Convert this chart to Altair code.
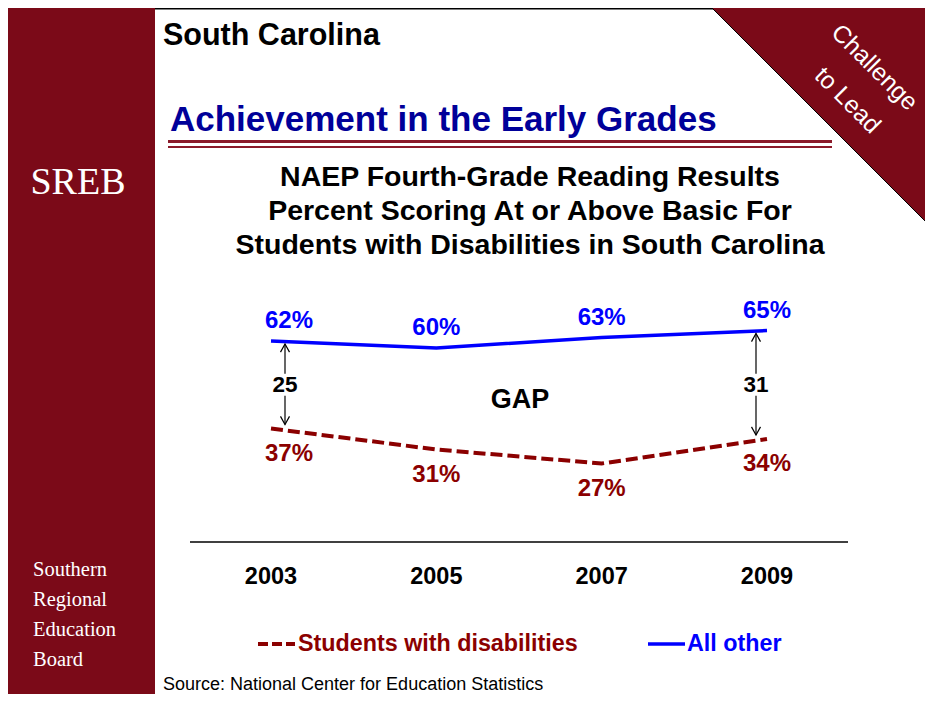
import altair as alt
import pandas as pd

# ---------------- data ----------------
years = [2003, 2005, 2007, 2009]
all_other = [62, 60, 63, 65]
disabilities = [37, 31, 27, 34]
series_names = ["Students with disabilities", "All other"]

gap_years = [2003, 2009]
gap_top = [62, 65]
gap_bottom = [37, 34]
gap_labels = ["25", "31"]

title_lines = [
    "NAEP Fourth-Grade Reading Results",
    "Percent Scoring At or Above Basic For",
    "Students with Disabilities in South Carolina",
]
sidebar_lines = ["Southern", "Regional", "Education", "Board"]
corner_lines = ["Challenge", "to Lead"]

# ---------------- styles ----------------
MAROON = "#7B0A18"
RULE_MAROON = "#8B1A2A"
DARKRED = "#8B0000"
BLUE = "#0000FF"
NAVY = "#000099"
SANS = "Liberation Sans"
SERIF = "Liberation Serif"

W, H = 917, 686

xs = alt.Scale(domain=[2003, 2009], range=[263, 759], nice=False, zero=False)
ys = alt.Scale(domain=[0, 100], range=[550, 200], nice=False, zero=False)
X = alt.X("year:Q", scale=xs, axis=None)

df = pd.DataFrame({"year": years,
                   series_names[1]: all_other,
                   series_names[0]: disabilities})
long = df.melt("year", var_name="series", value_name="pct")
long["label"] = long["pct"].astype(str) + "%"

gaps = pd.DataFrame({"year": gap_years, "top": gap_top,
                     "bottom": gap_bottom, "label": gap_labels})
one = pd.DataFrame({"k": [0]})

layers = []

# sidebar
layers.append(alt.Chart(one).mark_rect(color=MAROON).encode(
    x=alt.value(0), x2=alt.value(147), y=alt.value(0), y2=alt.value(H)))
# top border line
layers.append(alt.Chart(one).mark_rule(color="black", strokeWidth=1.5).encode(
    x=alt.value(147), x2=alt.value(W), y=alt.value(0.75)))
# corner triangle
layers.append(alt.Chart(one).mark_point(
    shape="M -1 -1 L 1 -1 L 1 1 Z", filled=True, fill=MAROON, stroke="black",
    strokeWidth=1, opacity=1, size=225 * 225).encode(
    x=alt.value(812.5), y=alt.value(108.5)))
# corner text
layers.append(alt.Chart(one).mark_text(
    text=corner_lines[0], font=SANS, fontSize=24.5, color="white", angle=45,
    align="center", baseline="middle").encode(x=alt.value(866), y=alt.value(60)))
layers.append(alt.Chart(one).mark_text(
    text=corner_lines[1], font=SANS, fontSize=24.5, color="white", angle=45,
    align="center", baseline="middle").encode(x=alt.value(839), y=alt.value(93)))
# SREB
layers.append(alt.Chart(one).mark_text(
    text="SREB", font=SERIF, fontSize=38, color="white",
    align="center", baseline="middle").encode(x=alt.value(70), y=alt.value(175)))
layers.append(alt.Chart(one).mark_text(
    text=sidebar_lines, font=SERIF, fontSize=20.5, lineHeight=30, color="white",
    align="left", baseline="middle").encode(x=alt.value(25), y=alt.value(562)))
# headings
layers.append(alt.Chart(one).mark_text(
    text="South Carolina", font=SANS, fontSize=30.5, fontWeight="bold", color="black",
    align="left", baseline="middle").encode(x=alt.value(155), y=alt.value(28)))
layers.append(alt.Chart(one).mark_text(
    text="Achievement in the Early Grades", font=SANS, fontSize=35, fontWeight="bold",
    color=NAVY, align="left", baseline="middle").encode(x=alt.value(162), y=alt.value(112)))
layers.append(alt.Chart(one).mark_rule(color=RULE_MAROON, strokeWidth=3).encode(
    x=alt.value(160), x2=alt.value(824), y=alt.value(133.5)))
layers.append(alt.Chart(one).mark_rule(color=RULE_MAROON, strokeWidth=2).encode(
    x=alt.value(160), x2=alt.value(824), y=alt.value(139)))
layers.append(alt.Chart(one).mark_text(
    text=title_lines, font=SANS, fontSize=28.5, lineHeight=34, fontWeight="bold",
    color="black", align="center", baseline="middle").encode(
    x=alt.value(522), y=alt.value(169)))

# baseline rule + year labels
layers.append(alt.Chart(one).mark_rule(color="black", strokeWidth=1.5).encode(
    x=alt.value(182), x2=alt.value(840), y=alt.value(534)))
layers.append(alt.Chart(pd.DataFrame({"year": years})).mark_text(
    font=SANS, fontSize=23.5, fontWeight="bold", color="black",
    align="center", baseline="middle").encode(
    x=X, y=alt.value(569), text=alt.Text("year:Q", format="d")))

# series lines
Y = alt.Y("pct:Q", scale=ys, axis=None)
layers.append(alt.Chart(long).transform_filter(
    alt.datum.series == series_names[1]).mark_line(
    color=BLUE, strokeWidth=3.5).encode(x=X, y=Y))
layers.append(alt.Chart(long).transform_filter(
    alt.datum.series == series_names[0]).mark_line(
    color=DARKRED, strokeWidth=4, strokeDash=[12, 5]).encode(x=X, y=Y))

# value labels
def value_labels(series, color, dy):
    base = alt.Chart(long).transform_filter(alt.datum.series == series)
    kw = dict(font=SANS, fontSize=24, fontWeight="bold", color=color,
              align="center", baseline="middle", dy=dy)
    first = base.transform_filter(alt.datum.year == years[0]).mark_text(
        dx=18, **kw).encode(x=X, y=Y, text="label:N")
    rest = base.transform_filter(alt.datum.year != years[0]).mark_text(
        **kw).encode(x=X, y=Y, text="label:N")
    return [first, rest]

layers += value_labels(series_names[1], BLUE, -20)
layers += value_labels(series_names[0], DARKRED, 25)

# gap arrows
for yr, off in zip(gap_years, [14, -11]):
    g = alt.Chart(gaps).transform_filter(alt.datum.year == yr).transform_calculate(
        mid="(datum.top + datum.bottom) / 2")
    layers.append(g.mark_rule(color="black", strokeWidth=1.2, xOffset=off,
                              yOffset=3, y2Offset=-4).encode(
        x=X, y=alt.Y("top:Q", scale=ys, axis=None), y2="bottom:Q"))
    layers.append(g.mark_point(shape="M -1 1.8 L 0 0 L 1 1.8", filled=False,
                               stroke="black", strokeWidth=1.2, opacity=1, size=81,
                               xOffset=off, yOffset=3).encode(
        x=X, y=alt.Y("top:Q", scale=ys, axis=None)))
    layers.append(g.mark_point(shape="M -1 -1.8 L 0 0 L 1 -1.8", filled=False,
                               stroke="black", strokeWidth=1.2, opacity=1, size=81,
                               xOffset=off, yOffset=-4).encode(
        x=X, y=alt.Y("bottom:Q", scale=ys, axis=None)))
    layers.append(g.mark_square(color="white", opacity=1, size=22 * 22,
                                xOffset=off).encode(
        x=X, y=alt.Y("mid:Q", scale=ys, axis=None)))
    layers.append(g.mark_text(font=SANS, fontSize=22.5, fontWeight="bold",
                              color="black", align="center", baseline="middle",
                              dx=off).encode(
        x=X, y=alt.Y("mid:Q", scale=ys, axis=None), text="label:N"))

# GAP annotation
layers.append(alt.Chart(one).mark_text(
    text="GAP", font=SANS, fontSize=27, fontWeight="bold", color="black",
    align="center", baseline="middle").encode(x=alt.value(512), y=alt.value(392)))

# legend (drawn)
layers.append(alt.Chart(one).mark_rule(color=DARKRED, strokeWidth=4,
                                       strokeDash=[10, 4]).encode(
    x=alt.value(250), x2=alt.value(287), y=alt.value(636)))
layers.append(alt.Chart(one).mark_text(
    text=series_names[0], font=SANS, fontSize=23.3, fontWeight="bold", color=DARKRED,
    align="left", baseline="middle").encode(x=alt.value(290), y=alt.value(636)))
layers.append(alt.Chart(one).mark_rule(color=BLUE, strokeWidth=3.5).encode(
    x=alt.value(640), x2=alt.value(677), y=alt.value(636)))
layers.append(alt.Chart(one).mark_text(
    text=series_names[1], font=SANS, fontSize=23.3, fontWeight="bold", color=BLUE,
    align="left", baseline="middle").encode(x=alt.value(679), y=alt.value(636)))

# source
layers.append(alt.Chart(one).mark_text(
    text="Source: National Center for Education Statistics", font=SANS, fontSize=18,
    color="black", align="left", baseline="middle").encode(
    x=alt.value(155), y=alt.value(677)))

chart = alt.layer(*layers).properties(
    width=W, height=H, padding=0,
    autosize=alt.AutoSizeParams(type="none"),
).configure_view(stroke=None)

chart.save("out.html", embed_options={"renderer": "svg", "actions": False})
